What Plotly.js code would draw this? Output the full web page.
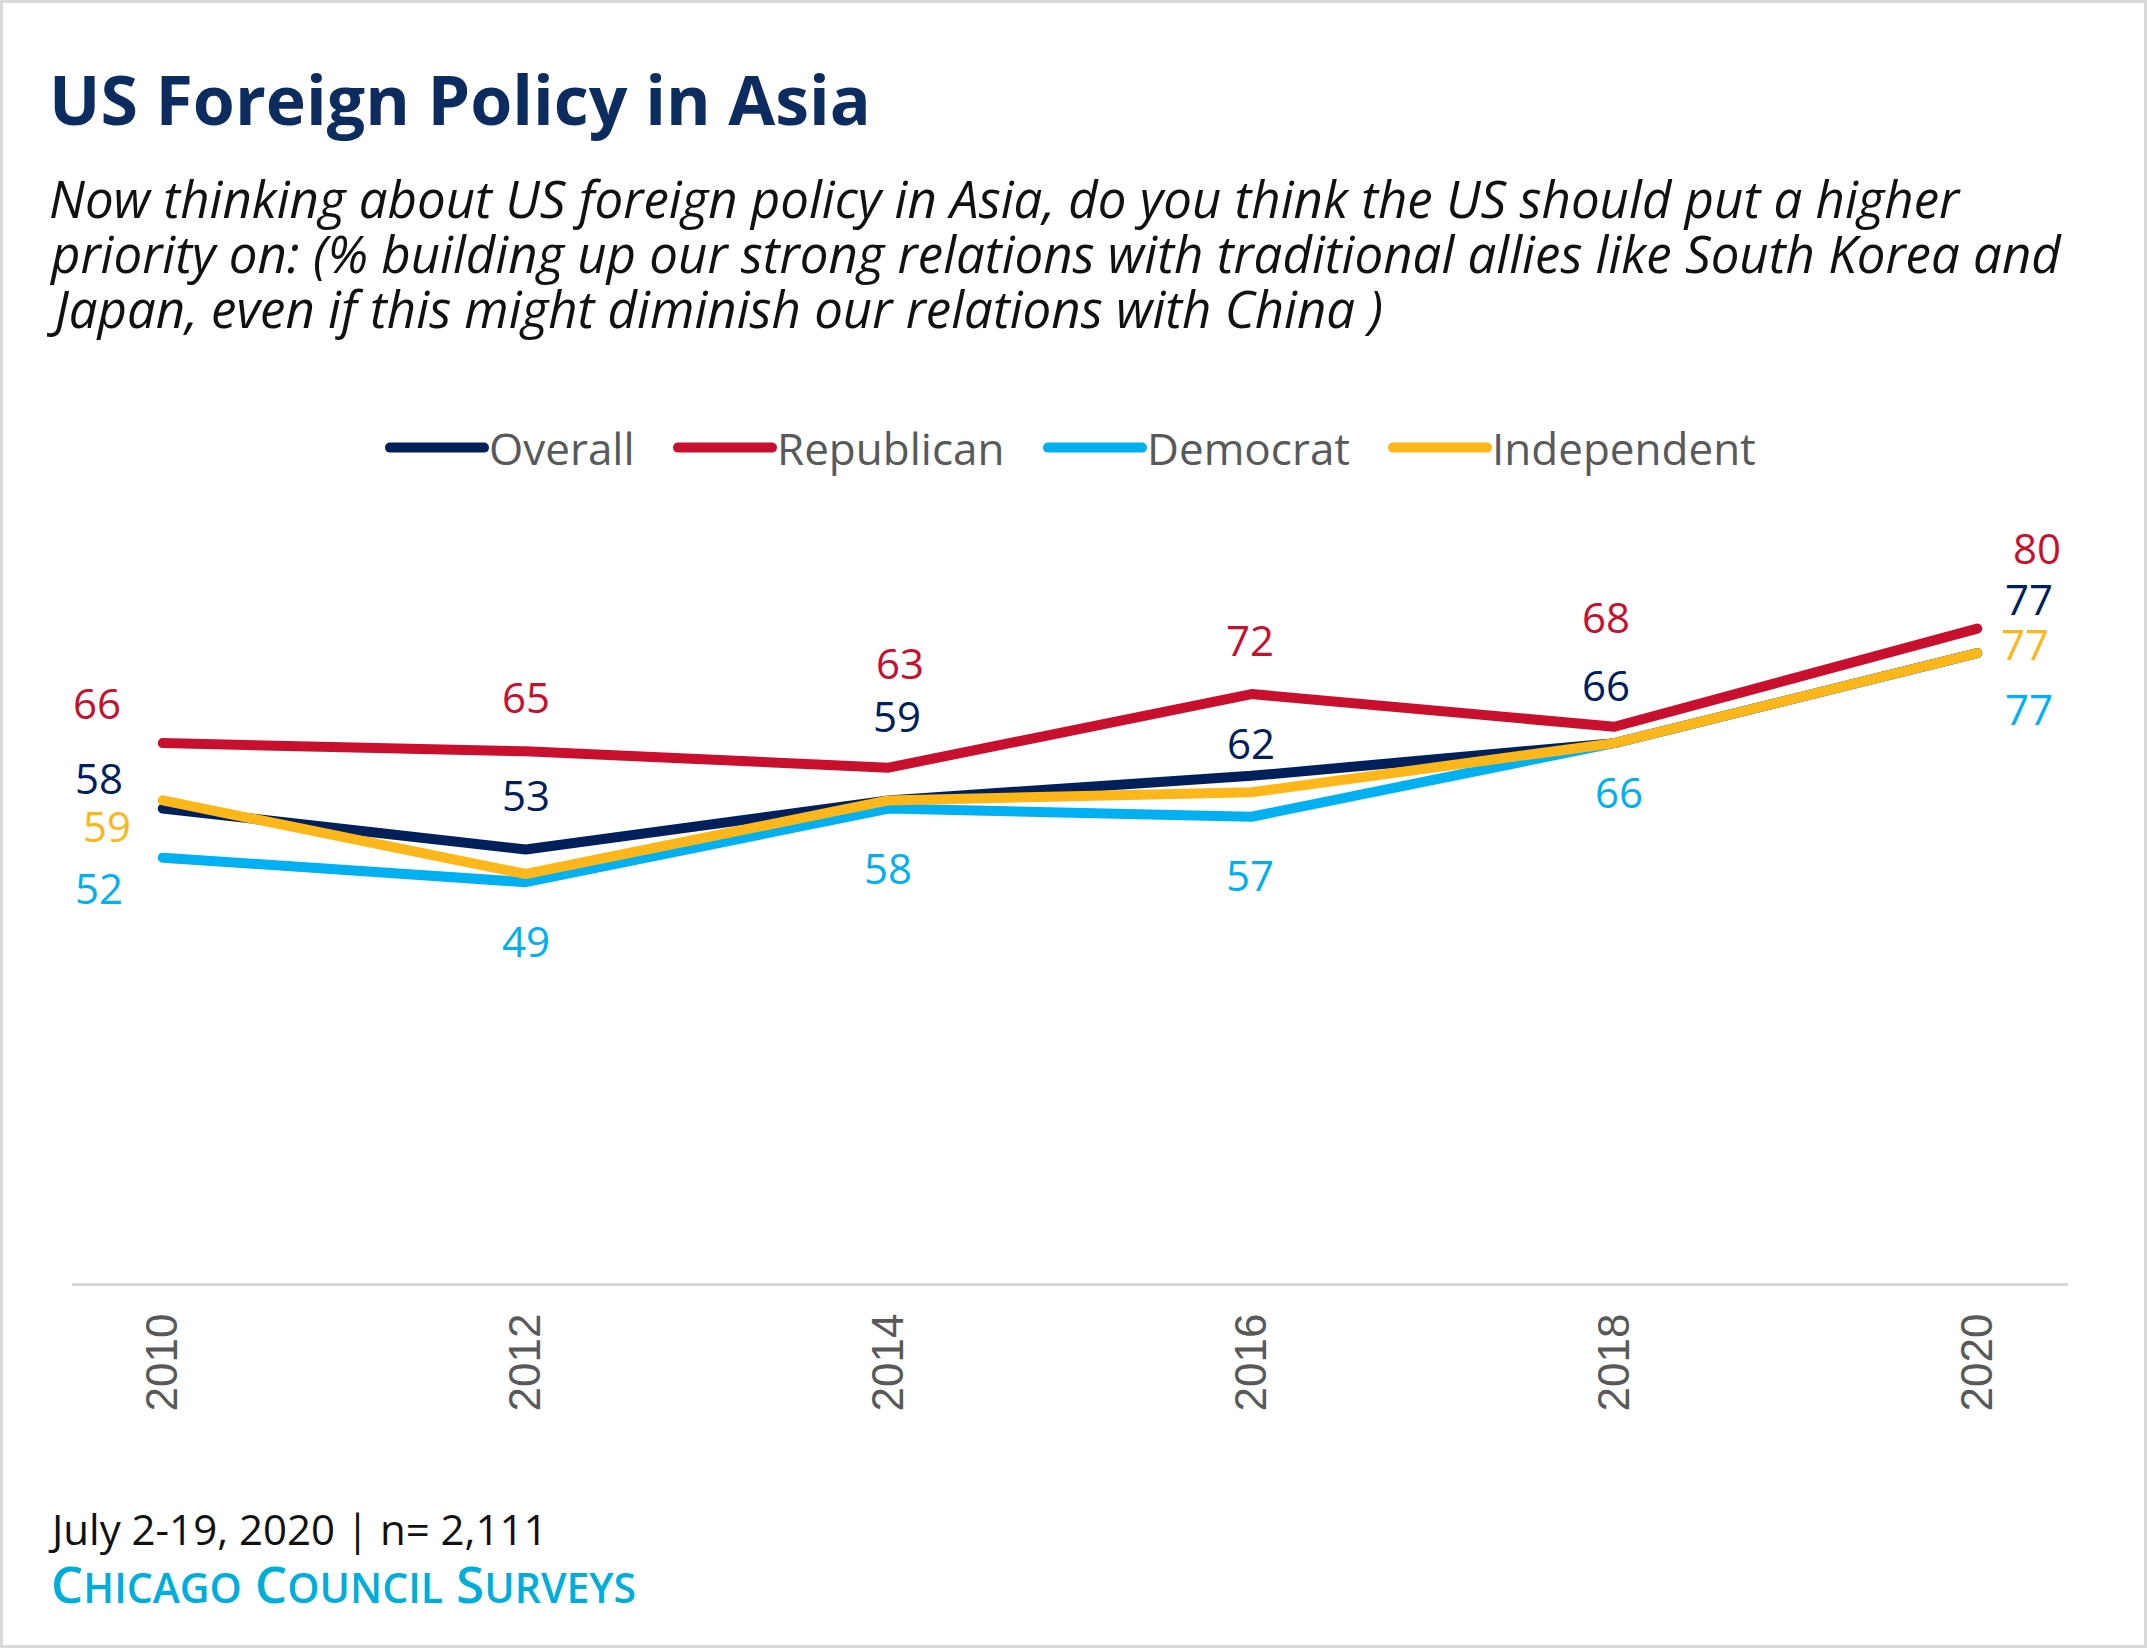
<!DOCTYPE html>
<html>
<head>
<meta charset="utf-8">
<script src="https://cdn.plot.ly/plotly-3.0.1.min.js"></script>
<style>
  html, body { margin: 0; padding: 0; background: #ffffff; }
  #wrap { position: relative; width: 2147px; height: 1648px; overflow: hidden; }
  #chart { width: 2147px; height: 1648px; }
  #frame { position: absolute; left: 0; top: 0; width: 2147px; height: 1648px; box-sizing: border-box;
           border: 3px solid #d9d9d9; pointer-events: none; }
  .scatterlayer .js-line, .legendlines path { stroke-linecap: round !important; stroke-linejoin: round !important; }
</style>
</head>
<body>
<div id="wrap"><div id="chart"></div><div id="frame"></div></div>
<script>
// ---- data ----
var years = ['2010', '2012', '2014', '2016', '2018', '2020'];
var overall = [58, 53, 59, 62, 66, 77];
var republican = [66, 65, 63, 72, 68, 80];
var democrat = [52, 49, 58, 57, 66, 77];
var independent = [59, 50, 59, 60, 66, 77];
var seriesNames = ['Overall', 'Republican', 'Democrat', 'Independent'];

// ---- styling / label placement (pixels, not data) ----
var colors = {Overall: '#00205B', Republican: '#C8102E', Democrat: '#00B0F0', Independent: '#FDB71A'};
// [dx, dy] offsets of value labels in px (dy downward), null = no label
var labelOffsets = {
  Overall:     [[-64, -31], [0, -55], [8, -85], [0, -33], [-8, -59], [52, -55]],
  Republican:  [[-66, -41], [0, -55], [11, -105], [-1, -55], [-8, -110], [60, -81]],
  Democrat:    [[-64, 30], [0, 58], [-1, 59], [-1, 58], [5, 48], [52, 55]],
  Independent: [[-56, 25], null, null, null, null, [48, -10]]
};
// left pixel of each legend entry's line
var legendStarts = [390, 678, 1048, 1393];

var W = 2147, H = 1648;
var M = {l: 72, r: 79, t: 465, b: 365};
function px2x(p) { return (p - M.l) / (W - M.l - M.r); }
function py2y(p) { return (H - M.b - p) / (H - M.t - M.b); }

var FONT = 'Open Sans, Noto Sans, sans-serif';
var seriesValues = {Overall: overall, Republican: republican, Democrat: democrat, Independent: independent};
var legendIds = ['legend', 'legend2', 'legend3', 'legend4'];

var traces = seriesNames.map(function (name, k) {
  return {
    type: 'scatter', mode: 'lines', name: name,
    x: years, y: seriesValues[name],
    line: {color: colors[name], width: 10},
    legend: legendIds[k],
    hoverinfo: 'x+y+name'
  };
});

var annotations = [];
seriesNames.forEach(function (name) {
  seriesValues[name].forEach(function (v, i) {
    var off = labelOffsets[name][i];
    if (!off) return;
    annotations.push({
      x: i, y: v, xref: 'x', yref: 'y', text: String(v), showarrow: false,
      xanchor: 'center', yanchor: 'middle', xshift: off[0], yshift: -off[1],
      font: {family: FONT, size: 42, color: colors[name]}
    });
  });
});

var subtitleLines = [
  'Now thinking about US foreign policy in Asia, do you think the US should put a higher',
  'priority on: (% building up our strong relations with traditional allies like South Korea and',
  'Japan, even if this might diminish our relations with China )'
];
var subtitleTops = [161, 216, 271];
subtitleLines.forEach(function (t, i) {
  annotations.push({
    xref: 'paper', yref: 'paper', x: px2x(i === 2 ? 44 : 47), y: py2y(subtitleTops[i]), xanchor: 'left', yanchor: 'top', align: 'left',
    showarrow: false, text: t,
    font: {family: FONT, size: 51, color: '#111111', style: 'italic'}
  });
});
annotations.push({
  xref: 'paper', yref: 'paper', x: px2x(46), y: py2y(1528), xanchor: 'left', yanchor: 'middle',
  showarrow: false, text: 'July 2-19, 2020 | n= 2,111',
  font: {family: FONT, size: 42, color: '#111111'}
});
var sc = function (first, rest) { return first + '<span style="font-size:41px">' + rest + '</span>'; };
annotations.push({
  xref: 'paper', yref: 'paper', x: px2x(49), y: py2y(1583), xanchor: 'left', yanchor: 'middle',
  showarrow: false, text: sc('C', 'HICAGO') + ' ' + sc('C', 'OUNCIL') + ' ' + sc('S', 'URVEYS'),
  font: {family: FONT, size: 51, color: '#00AEDB', weight: 600}
});

var layout = {
  width: W, height: H,
  margin: M,
  paper_bgcolor: '#ffffff', plot_bgcolor: '#ffffff',
  title: {
    text: 'US Foreign Policy in Asia',
    xref: 'container', yref: 'container', x: 49 / W, xanchor: 'left', y: 1 - 101 / H, yanchor: 'middle',
    font: {family: FONT, size: 68, color: '#0C2B5E', weight: 700}
  },
  showlegend: true,
  xaxis: {
    type: 'category', range: [-0.25, 5.25], fixedrange: true,
    showline: true, linecolor: '#d9d9d9', linewidth: 3, showgrid: false, zeroline: false,
    ticks: '', tickangle: -90, ticklabelstandoff: 10,
    tickfont: {family: 'Liberation Sans, Arial, sans-serif', size: 44, color: '#595959'}
  },
  yaxis: {
    range: [0, 100], visible: false, showgrid: false, zeroline: false, fixedrange: true
  },
  annotations: annotations
};
legendIds.forEach(function (id, k) {
  layout[id] = {
    orientation: 'h', x: px2x(legendStarts[k] - 5), xanchor: 'left', y: py2y(448), yanchor: 'middle',
    itemwidth: 94, font: {family: FONT, size: 44, color: '#595959'},
    bgcolor: 'rgba(0,0,0,0)', borderwidth: 0
  };
});

Plotly.newPlot('chart', traces, layout, {displayModeBar: false, staticPlot: true});
</script>
</body>
</html>
